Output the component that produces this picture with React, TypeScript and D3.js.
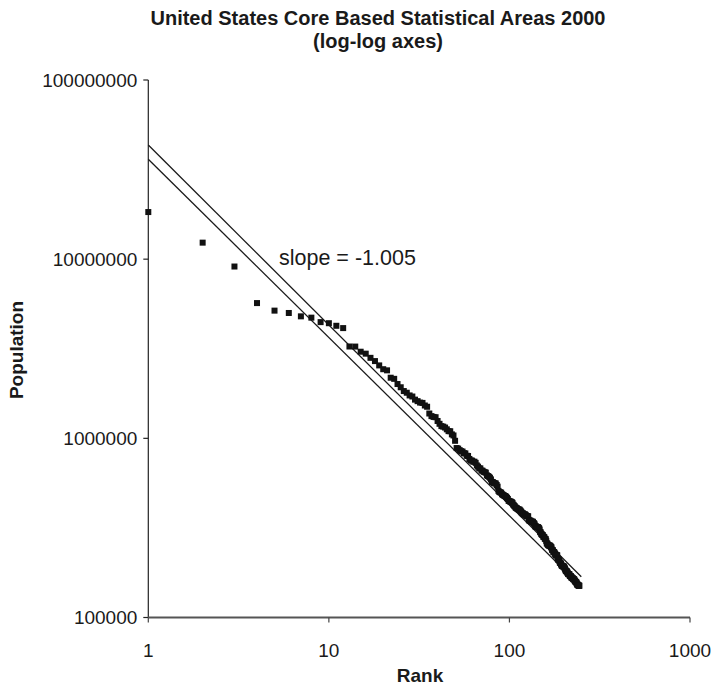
import React from "react";
import * as d3 from "d3";

// Census 2000 populations of US Core Based Statistical Areas, largest first
const populations: number[] = [
  18323002, 12365627, 9098316, 5687147, 5161544, 5007564, 4796183, 4715407, 4452557, 4391344,
  4247981, 4123740, 3254821, 3251876, 3043878, 2968806, 2813833, 2698687, 2552994, 2431087,
  2395997, 2179240, 2148143, 2009632, 1927881, 1836038, 1796857, 1735819, 1711703, 1644561,
  1612694, 1582997, 1576370, 1525104, 1500741, 1375765, 1330448, 1316510, 1311789, 1249763,
  1205204, 1170111, 1161975, 1148618, 1122750, 1096957, 1095421, 1052238, 1037831, 968858,
  882567, 876156, 859532, 848153, 843746, 825875, 824008, 799407, 797071, 767041,
  753197, 750963, 740482, 740395, 729649, 705973, 694960, 680014, 679622, 661645,
  659188, 650154, 647158, 643430, 621517, 616079, 610518, 602964, 589959, 571166,
  569463, 563598, 560625, 559940, 549033, 537484, 509074, 501774, 499684, 497197,
  487568, 483924, 481394, 476531, 476230, 470658, 464840, 458614, 447728, 446997,
  443343, 442656, 440888, 436141, 426493, 421961, 417939, 412153, 408326, 406934,
  403280, 401762, 399843, 399347, 394542, 390156, 385090, 381751, 380841, 376774,
  376019, 375965, 373638, 369171, 368374, 368021, 366899, 350761, 347214, 347045,
  346528, 342885, 342815, 342376, 341851, 336609, 335227, 330714, 322959, 322895,
  320304, 320204, 319605, 319426, 316663, 314866, 309635, 299896, 298484, 293000,
  291288, 288649, 288309, 282599, 281768, 280843, 275486, 274532, 273170, 266787,
  259088, 258916, 255602, 253791, 252552, 252320, 251494, 251377, 249700, 246681,
  246190, 239086, 238314, 237230, 232392, 232000, 231969, 228616, 226522, 224551,
  222771, 222581, 222368, 222230, 213517, 210554, 210275, 210039, 207355, 203171,
  201602, 201437, 198889, 196629, 194477, 194042, 193568, 193155, 193117, 192034,
  191822, 188831, 187093, 184885, 182791, 181607, 181269, 180926, 178541, 177749,
  175506, 174706, 174682, 174367, 174021, 170943, 170498, 170200, 170053, 167517,
  167392, 166814, 166079, 165740, 164624, 163706, 163618, 163256, 162453, 160245,
  160026, 158422, 157833, 157322, 156763, 155032, 153172, 152598, 152307, 151524,
  151272, 150564, 150433, 150355,
];

// Rank-size power lines: population = intercept * rank^slope
const lineIntercepts = [43400000, 36100000];
const lineSlopes = [-1.005, -0.995];
const lineRankSpan = [1, 250];

const xTicks = [1, 10, 100, 1000];
const yTicks = [100000, 1000000, 10000000, 100000000];

const titleLines = ["United States Core Based Statistical Areas 2000", "(log-log axes)"];
const slopeLabel = "slope = -1.005";

const W = 711;
const H = 689;
const plot = { left: 148.3, right: 690, top: 80, bottom: 617.5 };
const font = "'Liberation Sans', Arial, Helvetica, sans-serif";

export default function App() {
  const x = d3.scaleLog().domain([1, 1000]).range([plot.left, plot.right]);
  const y = d3.scaleLog().domain([100000, 100000000]).range([plot.bottom, plot.top]);

  const points = populations
    .slice()
    .sort(d3.descending)
    .map((p, i) => ({ rank: i + 1, pop: p }));

  const fitPaths = lineIntercepts.map((a, k) => {
    const b = lineSlopes[k];
    const gen = d3
      .line<number>()
      .x((r) => x(r))
      .y((r) => y(a * Math.pow(r, b)));
    return gen(lineRankSpan) as string;
  });

  const sq = 6;
  const titleX = 378;

  return (
    <svg
      width={W}
      height={H}
      style={{ position: "absolute", left: 0, top: 0, background: "#fff" }}
      fontFamily={font}
    >
      <rect width={W} height={H} fill="#fff" />
      {/* title */}
      <text x={titleX} y={25} textAnchor="middle" fontWeight="bold" fontSize={20} fill="#1a1a1a">
        {titleLines[0]}
      </text>
      <text x={titleX} y={48} textAnchor="middle" fontWeight="bold" fontSize={20} fill="#1a1a1a">
        {titleLines[1]}
      </text>

      {/* y axis */}
      <line x1={plot.left} x2={plot.left} y1={plot.top} y2={plot.bottom} stroke="#222" strokeWidth={1.2} />
      {yTicks.map((t) => (
        <g key={t}>
          <line x1={plot.left - 5} x2={plot.left} y1={y(t)} y2={y(t)} stroke="#222" strokeWidth={1.2} />
          <text x={plot.left - 11} y={y(t) + 6.5} textAnchor="end" fontSize={19} fill="#1a1a1a">
            {String(t)}
          </text>
        </g>
      ))}

      {/* x axis */}
      <line x1={plot.left} x2={plot.right} y1={plot.bottom} y2={plot.bottom} stroke="#555" strokeWidth={1.8} />
      {xTicks.map((t) => (
        <g key={t}>
          <line x1={x(t)} x2={x(t)} y1={plot.bottom} y2={plot.bottom + 5} stroke="#444" strokeWidth={1.2} />
          <text x={x(t)} y={plot.bottom + 39} textAnchor="middle" fontSize={19} fill="#1a1a1a">
            {String(t)}
          </text>
        </g>
      ))}

      {/* axis titles */}
      <text x={420} y={682} textAnchor="middle" fontWeight="bold" fontSize={19} fill="#1a1a1a">
        Rank
      </text>
      <text
        transform={`translate(23, 350) rotate(-90)`}
        textAnchor="middle"
        fontWeight="bold"
        fontSize={19}
        fill="#1a1a1a"
      >
        Population
      </text>

      {/* fitted lines */}
      {fitPaths.map((d, k) => (
        <path key={k} d={d} fill="none" stroke="#1a1a1a" strokeWidth={1.3} />
      ))}

      {/* data points */}
      {points.map((p) => (
        <rect
          key={p.rank}
          x={x(p.rank) - sq / 2}
          y={y(p.pop) - sq / 2}
          width={sq}
          height={sq}
          fill="#111"
        />
      ))}

      <text x={279} y={265} fontSize={21.5} fill="#1a1a1a">
        {slopeLabel}
      </text>
    </svg>
  );
}
